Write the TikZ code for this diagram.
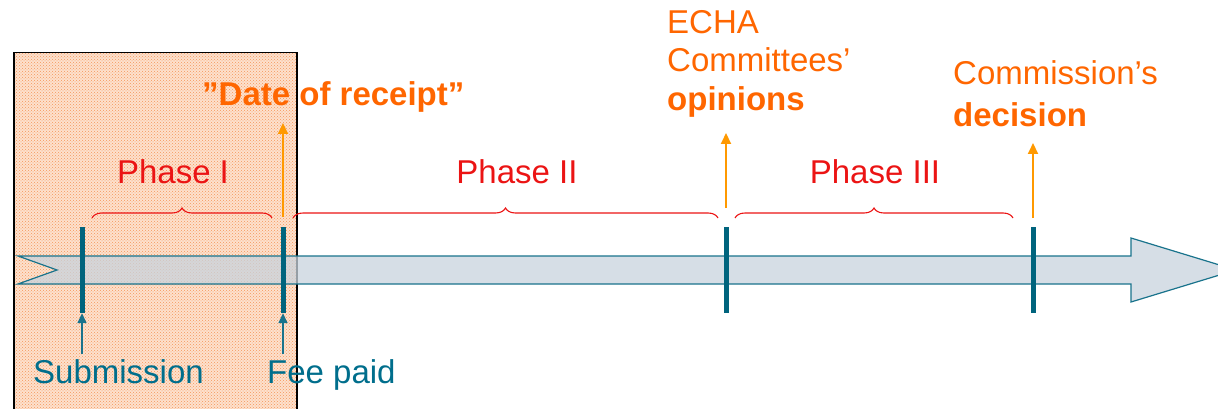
\documentclass[tikz,border=0pt]{standalone}
\usepackage{fontspec}
\setmainfont{Liberation Sans}
\usetikzlibrary{arrows.meta,decorations.pathreplacing,patterns}
\definecolor{tealtxt}{RGB}{0,110,140}
\definecolor{tealtick}{RGB}{0,100,125}
\definecolor{tealline}{RGB}{25,115,140}
\definecolor{orgtxt}{RGB}{255,102,0}
\definecolor{orgarr}{RGB}{255,153,0}
\definecolor{phred}{RGB}{235,20,20}
\definecolor{arrfill}{RGB}{200,211,221}
\definecolor{boxbase}{RGB}{253,225,205}
\definecolor{boxdot}{RGB}{245,150,90}
\begin{document}
\begin{tikzpicture}[x=1pt,y=-1pt,
  every node/.style={font=\fontsize{33}{38}\selectfont, inner sep=0pt},
  lbl/.style={anchor=base west},
  phase/.style={anchor=base, text=phred},
  tickbar/.style={fill=tealtick, minimum width=5pt, minimum height=86pt, inner sep=0pt},
  brc/.style={draw=phred, line width=1.1pt, decorate, decoration={brace, amplitude=10pt}},
  orgarrow/.style={draw=orgarr, line width=2pt, -{Triangle[width=10pt,length=11pt]}},
  tealarrow/.style={draw=tealline, line width=1.5pt, -{Triangle[width=9pt,length=10pt]}},
]
\useasboundingbox (0,0) rectangle (1218,409);
\clip (0,0) rectangle (1218,409);
% hatched box
\node[anchor=north west, minimum width=283pt, minimum height=362pt,
      preaction={fill=boxbase}, pattern=crosshatch dots, pattern color=boxdot,
      draw=black, line width=1.5pt] (box) at (13,52) {};
% main timeline arrow
\draw[draw=tealline, line width=1.2pt, fill=arrfill, fill opacity=0.75]
  (18,256) -- (1131,256) -- (1131,238) -- (1236,270) -- (1131,302) -- (1131,284)
  -- (18,284) -- (57,270) -- cycle;
% ticks
\node[tickbar] (t1) at (82,270) {};
\node[tickbar] (t2) at (283,270) {};
\node[tickbar] (t3) at (726,270) {};
\node[tickbar] (t4) at (1033,270) {};
% bottom labels
\node[lbl, text=tealtxt] (sub) at (33,383) {Submission};
\node[lbl, text=tealtxt] (fee) at (267,383) {Fee paid};
\coordinate (s1) at (82,354);
\coordinate (s2) at (283,354);
\draw[tealarrow] (s1) -- (t1.south);
\draw[tealarrow] (s2) -- (t2.south);
% braces and phases
\coordinate (b1l) at (92,218);  \coordinate (b1r) at (272,218);
\coordinate (b2l) at (293,218); \coordinate (b2r) at (718,218);
\coordinate (b3l) at (735,218); \coordinate (b3r) at (1013,218);
\draw[brc] (b1l) -- (b1r);
\draw[brc] (b2l) -- (b2r);
\draw[brc] (b3l) -- (b3r);
\node[phase] (p1) at (173,183) {Phase I};
\node[phase] (p2) at (517,183) {Phase II};
\node[phase] (p3) at (875,183) {Phase III};
% top labels
\node[lbl, text=orgtxt] (date) at (202,106) {\bfseries ”Date of receipt”};
\node[lbl, text=orgtxt] (echa1) at (667,34) {ECHA};
\node[lbl, text=orgtxt] (echa2) at (667,72) {Committees’};
\node[lbl, text=orgtxt] (echa3) at (667,111) {\bfseries opinions};
\node[lbl, text=orgtxt] (com1) at (953,85) {Commission’s};
\node[lbl, text=orgtxt] (com2) at (953,127) {\bfseries decision};
% orange arrows
\coordinate (o2s) at (283,217);  \coordinate (o2e) at (283,123);
\coordinate (o3s) at (726,208);  \coordinate (o3e) at (726,133);
\coordinate (o4s) at (1033,218); \coordinate (o4e) at (1033,143);
\draw[orgarrow] (o2s) -- (o2e);
\draw[orgarrow] (o3s) -- (o3e);
\draw[orgarrow] (o4s) -- (o4e);
\end{tikzpicture}
\end{document}
